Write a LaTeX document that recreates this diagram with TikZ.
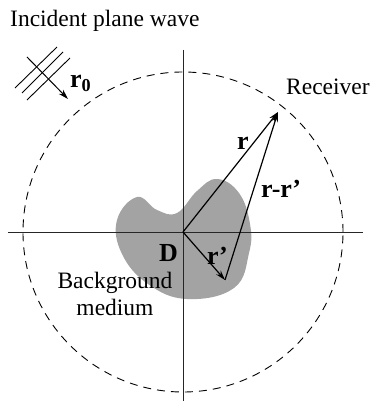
\documentclass[tikz,border=0pt]{standalone}
\usepackage{fontspec}
\setmainfont{Liberation Serif}
\usetikzlibrary{arrows.meta}

\begin{document}
\begin{tikzpicture}[x=1pt, y=1pt, >={Stealth[length=10pt,width=6pt]},
  lbl/.style={inner sep=0pt, font=\fontsize{23.5}{27}\selectfont},
  bold lbl/.style={inner sep=0pt, font=\fontsize{26}{30}\selectfont\bfseries},
  vec/.style={->, line width=1.2pt}]
\path[use as bounding box] (-183,-169) rectangle (189,232);
% scatterer D
\fill[gray!72] plot[smooth cycle, tension=0.7] coordinates {
  (-46,35) (-66,12) (-61,-22) (-35,-52) (4,-67) (51,-56) (66,-21)
  (67,8) (56,39) (34,53) (14,41) (-6,19) (-26,22)};
% axes and measurement circle
\coordinate (O) at (0,0);
\coordinate (xl) at (-175,0);
\coordinate (xr) at (180,0);
\coordinate (yt) at (0,182);
\coordinate (yb) at (0,-169);
\draw[line width=0.8pt, black!85] (xl) -- (xr);
\draw[line width=0.8pt, black!85] (yt) -- (yb);
\draw[dash pattern=on 8pt off 6pt, line width=0.9pt] (O) circle (160);
% vectors
\coordinate (R) at (95,120);
\coordinate (P) at (42,-48);
\draw[vec] (O) -- (R);
\draw[vec] (O) -- (P);
\draw[vec] (P) -- (R);
% incident plane wave
\foreach \i/\a/\b in {1/{-168,144}/{-126,185}, 2/{-161,139}/{-120,180}, 3/{-156,132}/{-113,174}}{
  \coordinate (w\i a) at (\a);
  \coordinate (w\i b) at (\b);
  \draw[line width=0.9pt] (w\i a) -- (w\i b);
}
\coordinate (k0) at (-156,175);
\coordinate (k1) at (-115,133);
\draw[->, line width=1pt] (k0) -- (k1);
% labels
\node[lbl, anchor=base west] (title) at (-173,205) {Incident plane wave};
\node[lbl, anchor=base west] (recv) at (103,137) {Receiver};
\node[bold lbl, anchor=base west] (r0) at (-113,144) {r\textsubscript{0}};
\node[bold lbl, anchor=base west] (rlab) at (54,82) {r};
\node[bold lbl, anchor=base west] (rrlab) at (78,34) {r-r’};
\node[bold lbl, anchor=base west] (rplab) at (24,-33) {r’};
\node[bold lbl, anchor=base west] (Dlab) at (-24,-30) {D};
\node[lbl, align=center, anchor=base] (bg) at (-68,-83) {Background\\medium};
\end{tikzpicture}
\end{document}
